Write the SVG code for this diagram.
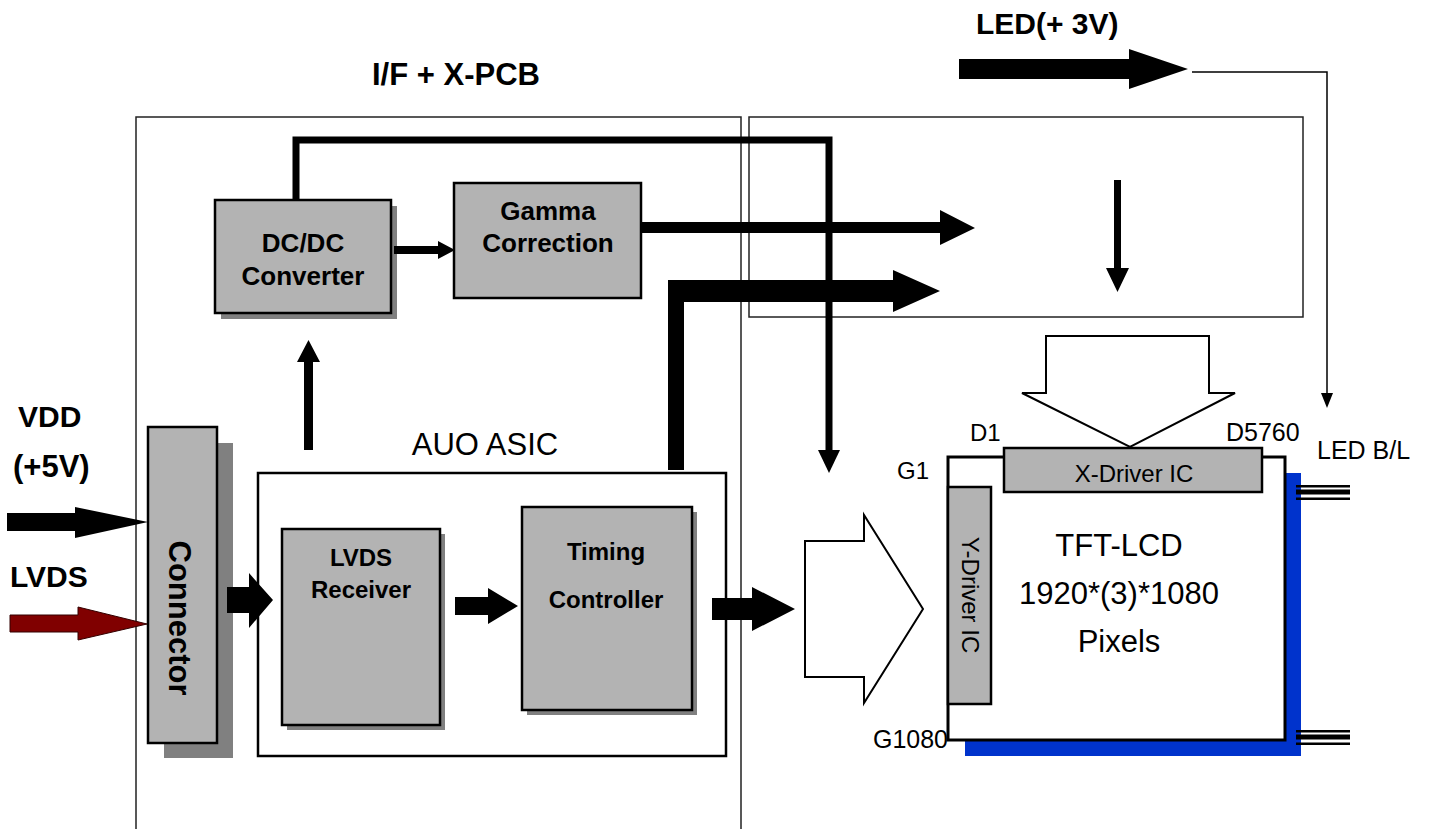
<svg xmlns="http://www.w3.org/2000/svg" width="1431" height="829" viewBox="0 0 1431 829">
<style>
.t{font-family:"Liberation Sans",Arial,sans-serif;fill:#000}
.b{font-weight:bold}
.box{fill:#b3b3b3;stroke:#000;stroke-width:2.5}
.sh{fill:#808080}
.frame{fill:none;stroke:#222;stroke-width:1.5}
.blk{fill:#000}
.wa{fill:#fff;stroke:#000;stroke-width:2}
</style>
<rect width="1431" height="829" fill="#fff"/>
<g id="frames">
<path class="frame" d="M136,829 V117 H741 V829"/>
<rect class="frame" x="749" y="117" width="554" height="200"/>
</g>
<g id="title">
<text class="t b" x="372" y="85" font-size="31">I/F + X-PCB</text>
<text class="t b" x="976" y="34" font-size="30">LED(+ 3V)</text>
</g>
<g id="inputs">
<text class="t b" x="18" y="427" font-size="30">VDD</text>
<text class="t b" x="13" y="477" font-size="31">(+5V)</text>
<text class="t b" x="10" y="587" font-size="30">LVDS</text>
</g>
<g id="asic">
<rect x="258" y="473" width="468" height="283" fill="#fff" stroke="#000" stroke-width="2.5"/>
<text class="t" x="485" y="455" font-size="31" text-anchor="middle">AUO ASIC</text>
</g>
<g id="connector">
<rect class="sh" x="164" y="443" width="69" height="315"/>
<rect class="box" x="148" y="427" width="69" height="316"/>
<text class="t b" font-size="31" text-anchor="middle" dominant-baseline="central" transform="translate(179,618) rotate(90)">Connector</text>
</g>
<g id="dcdc">
<rect class="sh" x="221" y="206" width="176" height="113"/>
<rect class="box" x="215" y="200" width="176" height="113"/>
<text class="t b" x="303" y="252" font-size="26" text-anchor="middle">DC/DC</text>
<text class="t b" x="303" y="285" font-size="26" text-anchor="middle">Converter</text>
</g>
<g id="gamma">
<rect class="box" x="454" y="183" width="187" height="115"/>
<text class="t b" x="548" y="220" font-size="26" text-anchor="middle">Gamma</text>
<text class="t b" x="548" y="252" font-size="26" text-anchor="middle">Correction</text>
</g>
<g id="lvds-receiver">
<rect class="sh" x="287" y="534" width="158" height="196"/>
<rect class="box" x="282" y="529" width="158" height="196"/>
<text class="t b" x="361" y="566" font-size="24" text-anchor="middle">LVDS</text>
<text class="t b" x="361" y="598" font-size="24" text-anchor="middle">Receiver</text>
</g>
<g id="timing-controller">
<rect class="sh" x="527" y="512" width="170" height="203"/>
<rect class="box" x="522" y="507" width="170" height="203"/>
<text class="t b" x="606" y="560" font-size="24" text-anchor="middle">Timing</text>
<text class="t b" x="606" y="608" font-size="24" text-anchor="middle">Controller</text>
</g>
<g id="panel">
<rect x="965" y="473" width="336" height="283" fill="#0033cc"/>
<rect x="948" y="457" width="337" height="283" fill="#fff" stroke="#000" stroke-width="3"/>
<rect class="box" x="1004" y="448" width="258" height="44"/>
<text class="t" x="1134" y="482" font-size="24" text-anchor="middle">X-Driver IC</text>
<rect class="box" x="948" y="487" width="43" height="217"/>
<text class="t" font-size="24" text-anchor="middle" dominant-baseline="central" transform="translate(970,595) rotate(90)">Y-Driver IC</text>
<text class="t" x="1119" y="556" font-size="31" text-anchor="middle">TFT-LCD</text>
<text class="t" x="1119" y="604" font-size="31" text-anchor="middle">1920*(3)*1080</text>
<text class="t" x="1119" y="652" font-size="31" text-anchor="middle">Pixels</text>
<text class="t" x="970" y="441" font-size="24">D1</text>
<text class="t" x="1226" y="441" font-size="25">D5760</text>
<text class="t" x="897" y="479" font-size="24">G1</text>
<text class="t" x="948" y="748" font-size="25" text-anchor="end">G1080</text>
</g>
<g id="led-bl">
<text class="t" x="1317" y="459" font-size="25">LED B/L</text>
<rect class="blk" x="1296" y="485" width="54" height="2.5"/>
<rect class="blk" x="1296" y="489.5" width="54" height="5"/>
<rect class="blk" x="1296" y="497.5" width="54" height="2.5"/>
<rect class="blk" x="1296" y="730" width="54" height="2.5"/>
<rect class="blk" x="1296" y="734.5" width="54" height="5"/>
<rect class="blk" x="1296" y="742.5" width="54" height="2.5"/>
</g>
<g id="connectors">
<polygon class="blk" points="7,513 75,513 75,507 148,522 75,538 75,531 7,531"/>
<polygon points="10,615 78,615 78,607 147,624 78,640 78,632 10,632" fill="#800000" stroke="#300" stroke-width="1"/>
<polygon class="blk" points="227,587 249,587 249,573 273,600 249,628 249,613 227,613"/>
<polygon class="blk" points="455,597 488,597 488,588 518,606 488,624 488,615 455,615"/>
<polygon class="blk" points="712,598 752,598 752,587 795,609 752,631 752,620 712,620"/>
<polygon class="blk" points="394,246 438,246 438,241 455,250 438,259 438,254 394,254"/>
<polygon class="blk" points="304,450 304,362 297,362 308.5,340 320,362 313,362 313,450"/>
<path d="M296,200 V140 H829 V452" fill="none" stroke="#000" stroke-width="7"/>
<polygon class="blk" points="818,450 840,450 829,473"/>
<polygon class="blk" points="641,222 940,222 940,210 975,228 940,245 940,233 641,233"/>
<polygon class="blk" points="668,470 668,280 893,280 893,270 940,291 893,312 893,302 684,302 684,470"/>
<polygon class="blk" points="1114,180 1121,180 1121,268 1129,268 1117.5,292 1106,268 1114,268"/>
<polygon class="blk" points="959,59 1129,59 1129,49 1188,69 1129,89 1129,79 959,79"/>
<path d="M1192,72 H1327 V395" fill="none" stroke="#000" stroke-width="1.5"/>
<polygon class="blk" points="1321,393 1333,393 1327,408"/>
<polygon class="wa" points="805,541 864,541 864,515 923,609 864,703 864,677 805,677"/>
<polygon class="wa" points="1046,336 1209,336 1209,393 1235,393 1130,447 1022,393 1046,393"/>
</g>
</svg>
